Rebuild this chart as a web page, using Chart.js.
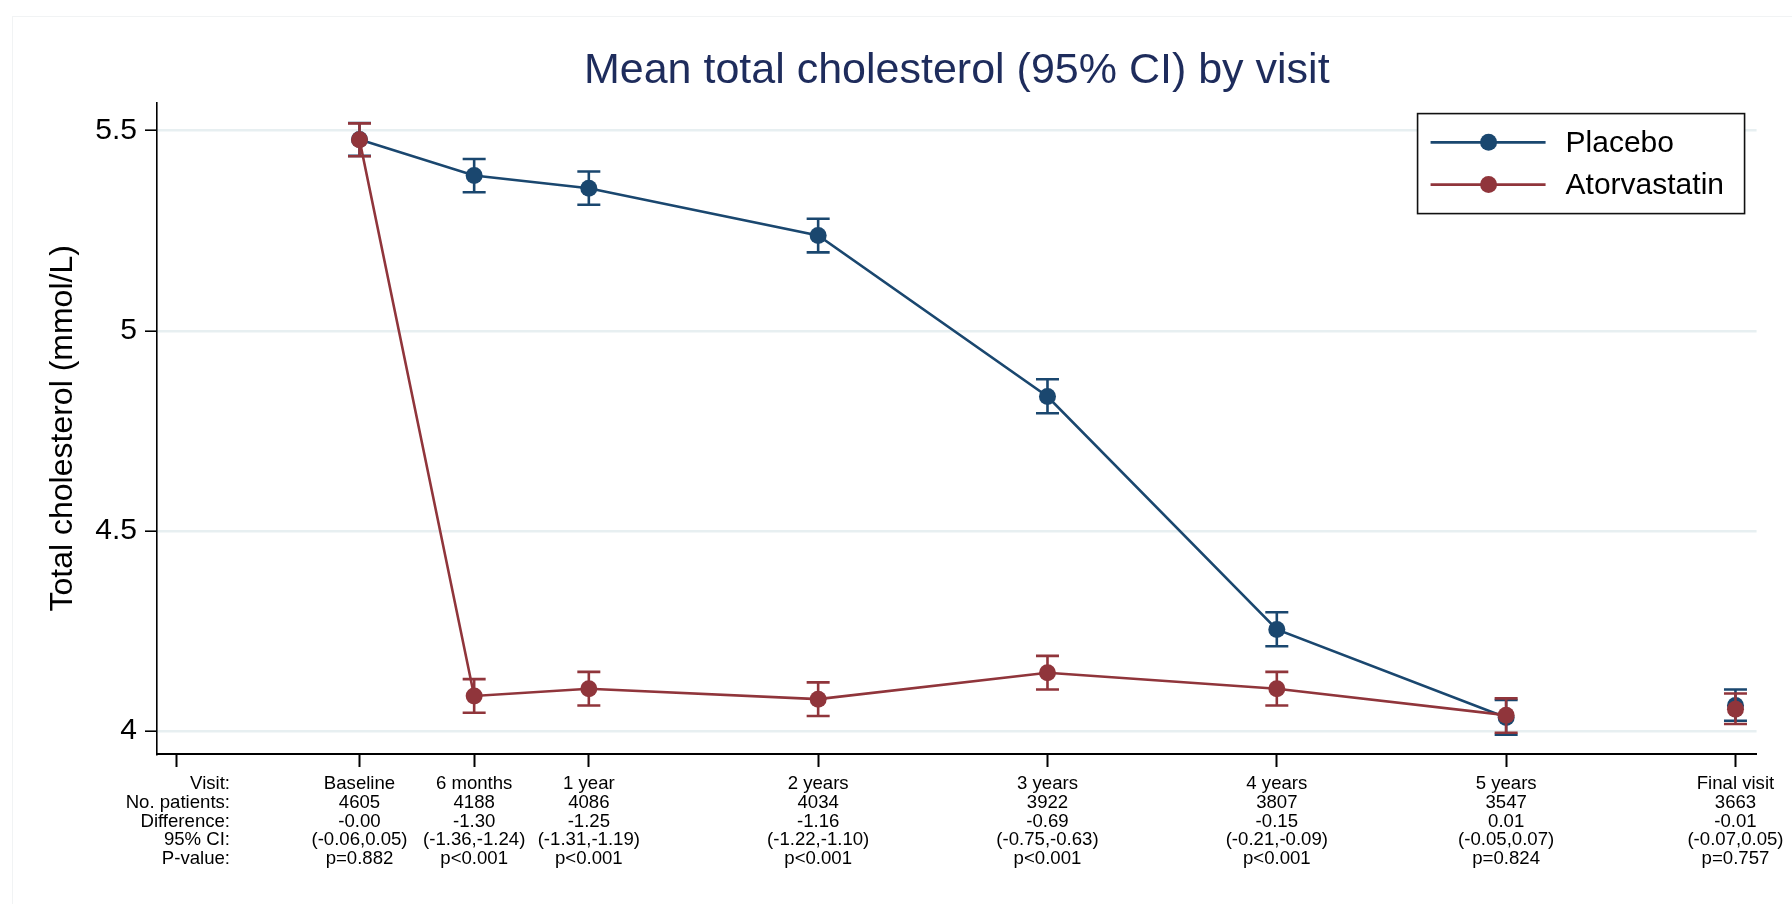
<!DOCTYPE html>
<html>
<head>
<meta charset="utf-8">
<title>Mean total cholesterol (95% CI) by visit</title>
<script src="https://cdn.jsdelivr.net/npm/chart.js@4.4.1/dist/chart.umd.min.js"></script>
<style>
  html, body { margin: 0; padding: 0; background: #fff; }
  #wrap { width: 1792px; height: 904px; position: relative; }
</style>
</head>
<body>
<div id="wrap"><canvas id="chol"></canvas></div>
<script>
// ---- data ----
const visitNames = ['Baseline', '6 months', '1 year', '2 years', '3 years', '4 years', '5 years', 'Final visit'];
const visitYears = [0, 0.5, 1, 2, 3, 4, 5, 6];
const nPatients  = ['4605', '4188', '4086', '4034', '3922', '3807', '3547', '3663'];
const diffs      = ['-0.00', '-1.30', '-1.25', '-1.16', '-0.69', '-0.15', '0.01', '-0.01'];
const diffCI     = ['(-0.06,0.05)', '(-1.36,-1.24)', '(-1.31,-1.19)', '(-1.22,-1.10)', '(-0.75,-0.63)', '(-0.21,-0.09)', '(-0.05,0.07)', '(-0.07,0.05)'];
const pValues    = ['p=0.882', 'p<0.001', 'p<0.001', 'p<0.001', 'p<0.001', 'p<0.001', 'p=0.824', 'p=0.757'];
const rowTitles  = ['Visit:', 'No. patients:', 'Difference:', '95% CI:', 'P-value:'];
const rowTitleX  = -0.8;   // where the row titles column sits on the x axis

const placeboMean = [5.478, 5.388, 5.356, 5.238, 4.836, 4.254, 4.034, 4.064];
const placeboLo   = [5.437, 5.346, 5.315, 5.196, 4.794, 4.212, 3.991, 4.026];
const placeboHi   = [5.519, 5.429, 5.398, 5.280, 4.879, 4.297, 4.078, 4.104];

const atorvaMean  = [5.477, 4.088, 4.106, 4.080, 4.146, 4.106, 4.040, 4.055];
const atorvaLo    = [5.436, 4.046, 4.064, 4.038, 4.104, 4.064, 3.996, 4.018];
const atorvaHi    = [5.518, 4.130, 4.148, 4.122, 4.188, 4.148, 4.082, 4.094];

const yTicks = [4, 4.5, 5, 5.5];

// ---- look ----
const FONT = "'Liberation Sans', Arial, Helvetica, sans-serif";
const NAVY = '#1a476f';
const MAROON = '#90353b';
const TABLE_SIZE = 18.6;
const TABLE_LH = 1.0;

Chart.defaults.font.family = FONT;
Chart.defaults.color = '#000';

function toPoints(ys){
  return visitYears.map((x, i) => ({ x: x, y: ys[i] }));
}

function tableLabel(value){
  let i = visitYears.indexOf(value);
  if (i < 0) return '';
  return [visitNames[i], nPatients[i], diffs[i], diffCI[i], pValues[i]];
}

// final visit is not joined to 5 years
function segColor(ctx){
  return ctx.p1DataIndex === visitYears.length - 1 ? 'rgba(0,0,0,0)' : undefined;
}

// CI bars, drawn just before each dataset so the later one sits on top
const errorBars = {
  id: 'errorBars',
  beforeDatasetDraw(chart, args){
    const ds = chart.data.datasets[args.index];
    const ys = chart.scales.y;
    const ctx = chart.ctx;
    ctx.save();
    ctx.strokeStyle = ds.borderColor;
    ctx.lineWidth = 2.6;
    args.meta.data.forEach((pt, i) => {
      let top = ys.getPixelForValue(ds.hi[i]);
      let bot = ys.getPixelForValue(ds.lo[i]);
      ctx.beginPath();
      ctx.moveTo(pt.x, top); ctx.lineTo(pt.x, bot);
      ctx.moveTo(pt.x - 11.5, top); ctx.lineTo(pt.x + 11.5, top);
      ctx.moveTo(pt.x - 11.5, bot); ctx.lineTo(pt.x + 11.5, bot);
      ctx.stroke();
    });
    ctx.restore();
  }
};

// left column of the table under the axis, right aligned
const rowTitlesPlugin = {
  id: 'rowTitles',
  afterDraw(chart){
    const xs = chart.scales.x;
    const ctx = chart.ctx;
    const lh = TABLE_SIZE * TABLE_LH;
    let y = xs.top + xs.options.grid.tickLength + xs.options.ticks.padding + lh / 2;
    let right = xs.getPixelForValue(rowTitleX) + 54;
    ctx.save();
    ctx.font = TABLE_SIZE + 'px ' + FONT;
    ctx.fillStyle = '#000';
    ctx.textAlign = 'right';
    ctx.textBaseline = 'middle';
    rowTitles.forEach(t => {
      ctx.fillText(t, right, y);
      y += lh;
    });
    ctx.restore();
  }
};

// boxed legend in the top right corner of the plot
const boxLegend = {
  id: 'boxLegend',
  afterDraw(chart){
    const ca = chart.chartArea;
    const ctx = chart.ctx;
    let w = 327, h = 100;
    let left = ca.right - 12 - w;
    let top = ca.top + 11;
    ctx.save();
    ctx.fillStyle = '#fff';
    ctx.fillRect(left, top, w, h);
    ctx.strokeStyle = '#111';
    ctx.lineWidth = 1.6;
    ctx.strokeRect(left, top, w, h);
    ctx.font = '30px ' + FONT;
    ctx.textBaseline = 'middle';
    ctx.textAlign = 'left';
    chart.data.datasets.forEach((ds, i) => {
      let y = top + 28.7 + i * 42.3;
      ctx.strokeStyle = ds.borderColor;
      ctx.lineWidth = 2.8;
      ctx.beginPath();
      ctx.moveTo(left + 13, y); ctx.lineTo(left + 128, y);
      ctx.stroke();
      ctx.fillStyle = ds.borderColor;
      ctx.beginPath();
      ctx.arc(left + 71, y, 8.5, 0, Math.PI * 2);
      ctx.fill();
      ctx.fillStyle = '#000';
      ctx.fillText(ds.label, left + 148, y + 1);
    });
    ctx.restore();
  }
};

// faint outer frame of the graph region (only top + left edges show)
const outerFrame = {
  id: 'outerFrame',
  beforeDraw(chart){
    const ctx = chart.ctx;
    ctx.save();
    ctx.fillStyle = '#fff';
    ctx.fillRect(0, 0, chart.width, chart.height);
    ctx.strokeStyle = '#f1f3f4';
    ctx.lineWidth = 1;
    ctx.strokeRect(12.5, 16.5, chart.width + 20, chart.height + 20);
    ctx.restore();
  }
};

new Chart(document.getElementById('chol'), {
  type: 'line',
  data: {
    datasets: [
      {
        label: 'Placebo',
        data: toPoints(placeboMean),
        lo: placeboLo, hi: placeboHi,
        borderColor: NAVY,
        backgroundColor: NAVY,
        pointBackgroundColor: NAVY,
        borderWidth: 2.6,
        pointRadius: 8.5,
        pointBorderWidth: 0,
        tension: 0,
        order: 1,
        segment: { borderColor: segColor }
      },
      {
        label: 'Atorvastatin',
        data: toPoints(atorvaMean),
        lo: atorvaLo, hi: atorvaHi,
        borderColor: MAROON,
        backgroundColor: MAROON,
        pointBackgroundColor: MAROON,
        borderWidth: 2.6,
        pointRadius: 8.5,
        pointBorderWidth: 0,
        tension: 0,
        order: 0,
        segment: { borderColor: segColor }
      }
    ]
  },
  options: {
    responsive: true,
    maintainAspectRatio: false,
    animation: false,
    events: [],
    layout: { padding: { left: 0, right: 32, top: 0, bottom: 0 } },
    plugins: {
      legend: { display: false },
      tooltip: { enabled: false },
      title: {
        display: true,
        fullSize: false,
        text: 'Mean total cholesterol (95% CI) by visit',
        color: '#1e2c5c',
        font: { size: 43, weight: 'normal', lineHeight: 1.2 },
        padding: { top: 45, bottom: 6 }
      }
    },
    scales: {
      x: {
        type: 'linear',
        min: -0.883,
        max: 6.092,
        afterBuildTicks: (scale) => {
          scale.ticks = [rowTitleX].concat(visitYears).map(v => ({ value: v }));
        },
        afterFit: (scale) => { scale.height = 150; },
        border: { color: '#000', width: 2 },
        grid: {
          drawOnChartArea: false,
          drawTicks: true,
          tickLength: 13,
          tickColor: '#000',
          tickWidth: 2
        },
        ticks: {
          autoSkip: false,
          maxRotation: 0,
          minRotation: 0,
          padding: 8,
          color: '#000',
          font: { size: TABLE_SIZE, lineHeight: TABLE_LH },
          callback: (value) => tableLabel(value)
        }
      },
      y: {
        min: 3.943,
        max: 5.570,
        afterBuildTicks: (scale) => {
          scale.ticks = yTicks.map(v => ({ value: v }));
        },
        afterFit: (scale) => { scale.width = 157; },
        border: { color: '#000', width: 1.6 },
        grid: {
          color: '#e7eff1',
          lineWidth: 2.4,
          tickLength: 12,
          tickColor: '#000',
          tickWidth: 1.6
        },
        ticks: {
          padding: 8,
          color: '#000',
          font: { size: 30 },
          callback: (value) => String(value)
        },
        title: {
          display: true,
          text: 'Total cholesterol (mmol/L)',
          color: '#000',
          font: { size: 32, lineHeight: 1.2 },
          padding: { top: 44, bottom: 0 }
        }
      }
    }
  },
  plugins: [outerFrame, errorBars, rowTitlesPlugin, boxLegend]
});
</script>
</body>
</html>
